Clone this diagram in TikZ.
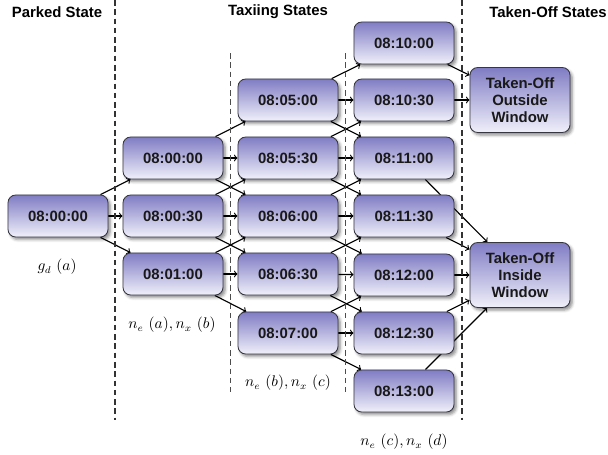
\documentclass[tikz,border=0pt]{standalone}
\usepackage{fontspec}
\setsansfont{Liberation Sans}
\usetikzlibrary{shadows.blur,backgrounds}
\definecolor{slotTop}{RGB}{128,124,196}
\definecolor{slotBottom}{RGB}{240,240,250}
\definecolor{slotLine}{RGB}{55,55,65}
\begin{document}
\begin{tikzpicture}[x=0.025cm, y=-0.025cm,
  slot/.style={draw=slotLine, line width=0.6pt, rounded corners=5.5pt,
    top color=slotTop, bottom color=slotBottom, text=black!90,
    minimum width=2.5cm, minimum height=1.05cm, align=center,
    font=\fontsize{10.6}{12}\selectfont\sffamily\bfseries,
    blur shadow={shadow xshift=1.6pt, shadow yshift=-1.8pt, shadow blur radius=2pt, shadow opacity=45}},
  head/.style={font=\fontsize{10.6}{12}\selectfont\sffamily\bfseries},
  mlabel/.style={font=\fontsize{10.6}{12}\selectfont},
  phase/.style={black!80, line width=1pt, dash pattern=on 4pt off 2.6pt},
  lane/.style={black!70, line width=0.5pt, dash pattern=on 4pt off 2.6pt}]
\useasboundingbox (0,0) rectangle (608,455);
% headers
\node[head](H1) at (57, 12) {Parked State};
\node[head](H2) at (278, 12) {Taxiing States};
\node[head](H3) at (548, 12) {Taken-Off States};
% separators
\draw[phase] (115, 0) -- (115, 420);
\draw[phase] (462, 0) -- (462, 420);
\draw[lane] (230, 53) -- (230, 392);
\draw[lane] (345, 53) -- (345, 392);
% states
\node[slot](A) at (58, 216) {08:00:00};
\node[slot](B1) at (173, 158) {08:00:00};
\node[slot](B2) at (173, 216) {08:00:30};
\node[slot](B3) at (173, 274) {08:01:00};
\node[slot](C1) at (288, 100) {08:05:00};
\node[slot](C2) at (288, 158) {08:05:30};
\node[slot](C3) at (288, 216) {08:06:00};
\node[slot](C4) at (288, 274) {08:06:30};
\node[slot](C5) at (288, 333) {08:07:00};
\node[slot](D0) at (404, 43) {08:10:00};
\node[slot](D1) at (404, 100) {08:10:30};
\node[slot](D2) at (404, 158) {08:11:00};
\node[slot](D3) at (404, 216) {08:11:30};
\node[slot](D4) at (404, 275) {08:12:00};
\node[slot](D5) at (404, 333) {08:12:30};
\node[slot](D6) at (404, 391) {08:13:00};
\node[slot, minimum height=1.625cm](O) at (520, 100) {Taken-Off\\Outside\\Window};
\node[slot, minimum height=1.625cm](I) at (520, 275) {Taken-Off\\Inside\\Window};
% costs
\node[mlabel](L1) at (57, 267) {$g_d\ (a)$};
\node[mlabel](L2) at (172, 325) {$n_e\ (a), n_x\ (b)$};
\node[mlabel](L3) at (288, 383) {$n_e\ (b), n_x\ (c)$};
\node[mlabel](L4) at (404, 442) {$n_e\ (c), n_x\ (d)$};
\begin{scope}[on background layer]
\path[->, line width=0.8pt]
(A) edge (B1) (A) edge (B2) (A) edge (B3)
(B1) edge (C1) (B1) edge (C2) (B1) edge (C3)
(B2) edge (C2) (B2) edge (C3) (B2) edge (C4)
(B3) edge (C3) (B3) edge (C4) (B3) edge (C5)
(C1) edge (D0) (C1) edge (D1) (C1) edge (D2)
(C2) edge (D1) (C2) edge (D2) (C2) edge (D3)
(C3) edge (D2) (C3) edge (D3) (C3) edge (D4)
(C4) edge (D3) (C4) edge (D4) (C4) edge (D5)
(C5) edge (D4) (C5) edge (D5) (C5) edge (D6)
(D0) edge (O) (D1) edge (O)
(D2) edge (I) (D3) edge (I) (D4) edge (I) (D5) edge (I) (D6) edge (I);
\end{scope}
\end{tikzpicture}
\end{document}
